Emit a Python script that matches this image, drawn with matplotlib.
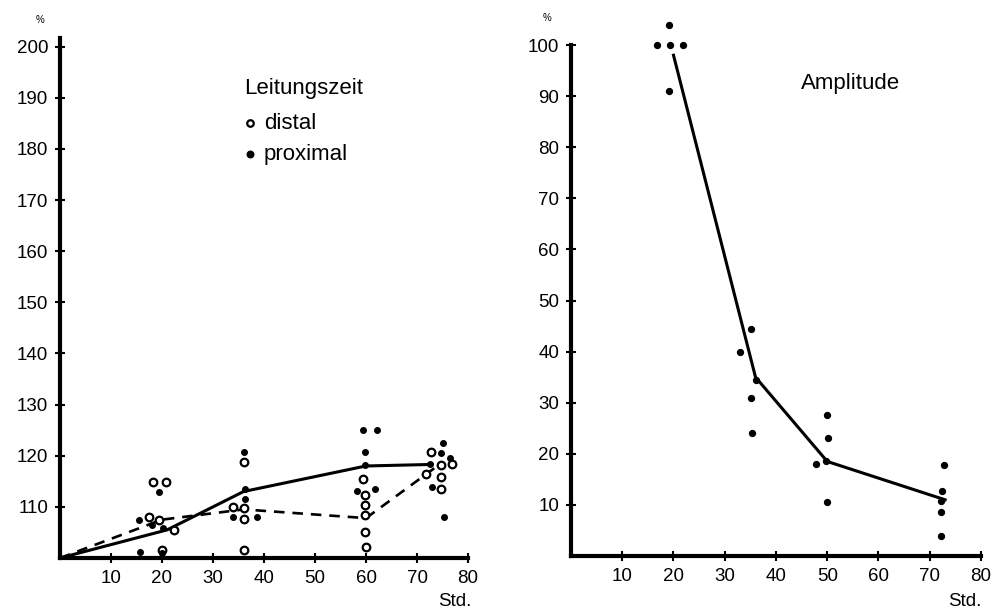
"""
Nerve conduction after transection: Leitungszeit (left) and Amplitude (right)
versus hours (Std.) -- redrawn from the scanned figure.
"""

import matplotlib
matplotlib.use("Agg")
import matplotlib.pyplot as plt

plt.rcParams.update({
    "font.family": ["Liberation Sans", "DejaVu Sans"],
    "font.size": 13.5,
    "axes.spines.top": False,
    "axes.spines.right": False,
    "axes.linewidth": 3.0,
})

# ---- left panel: Leitungszeit (%) ----
x_ticks = [10, 20, 30, 40, 50, 60, 70, 80]
left_yticks = [110, 120, 130, 140, 150, 160, 170, 180, 190, 200]
right_yticks = [10, 20, 30, 40, 50, 60, 70, 80, 90, 100]

distal_x = [18.2, 20.8, 17.5, 19.5, 22.4, 20.0,
            36.0, 34.0, 36.0, 36.0, 36.0,
            59.5, 59.8, 59.8, 59.8, 59.8, 60.0,
            72.7, 74.8, 76.8, 71.8, 74.8, 74.8]
distal_y = [114.8, 114.8, 108.0, 107.5, 105.5, 101.5,
            118.7, 110.0, 109.7, 107.7, 101.6,
            115.5, 112.4, 110.3, 108.4, 105.0, 102.2,
            120.7, 118.1, 118.4, 116.5, 115.8, 113.5]

proximal_x = [19.4, 15.4, 18.0, 20.1, 15.6, 20.0,
              36.0, 36.3, 36.3, 34.0, 38.6,
              59.5, 62.1, 59.8, 59.8, 58.2, 61.8,
              75.0, 74.8, 76.5, 72.9, 75.2, 72.5]
proximal_y = [113.0, 107.4, 106.4, 105.8, 101.2, 101.0,
              120.7, 113.5, 111.6, 108.1, 108.1,
              125.0, 125.0, 120.7, 118.1, 113.2, 113.5,
              122.4, 120.5, 119.6, 113.9, 108.1, 118.4]

distal_line_x = [0, 20, 36, 60, 74]
distal_line_y = [100, 107.5, 109.5, 107.8, 118.0]
proximal_line_x = [0, 21, 36, 60, 73]
proximal_line_y = [100, 105.5, 113.0, 118.0, 118.3]

# ---- right panel: Amplitude (%) ----
amp_x = [16.7, 19.3, 21.8, 19.2, 19.2,
         32.9, 35.1, 36.1, 35.1, 35.4,
         50.0, 50.2, 47.9, 49.7, 50.0,
         72.7, 72.3, 72.1, 72.1, 72.1]
amp_y = [100, 100, 100, 104, 91,
         40, 44.5, 34.5, 31, 24,
         27.5, 23, 18, 18.5, 10.5,
         17.8, 12.8, 10.8, 8.6, 4]
amp_line_x = [20, 36, 50, 73]
amp_line_y = [98, 35, 18.5, 11]

W, H = 1003, 611
fig = plt.figure(figsize=(W / 100, H / 100), dpi=100)
ax1 = fig.add_axes([60 / W, (H - 558) / H, 408 / W, 520 / H])
ax2 = fig.add_axes([571 / W, (H - 556) / H, 410 / W, 511 / H])


def style_axis(ax):
    ax.tick_params(direction="inout", length=7, width=1.5, pad=5, labelsize=13.5)
    ax.set_xticks(x_ticks)
    ax.set_xlim(0, 80)


# left
ax1.plot(proximal_line_x, proximal_line_y, color="black", lw=2.2, solid_capstyle="round")
ax1.plot(distal_line_x, distal_line_y, color="black", lw=1.9, dashes=(4, 3))
dist = ax1.scatter(distal_x, distal_y, s=30, facecolors="white", edgecolors="black",
                   linewidths=1.6, zorder=3, clip_on=False)
prox = ax1.scatter(proximal_x, proximal_y, s=16, color="black", zorder=4, clip_on=False)
style_axis(ax1)
ax1.set_ylim(100, 201.7)
ax1.set_yticks(left_yticks)
leg = ax1.legend([dist, prox], ["distal", "proximal"], title="Leitungszeit",
                 loc="upper left", bbox_to_anchor=(244 / W, 1 - 78 / H),
                 bbox_transform=fig.transFigure, frameon=False, alignment="left",
                 handlelength=0.5, handletextpad=0.4, labelspacing=0.45,
                 fontsize=16, title_fontsize=16, borderaxespad=0, borderpad=0)
leg._legend_box.sep = 10
for h in leg.legend_handles:
    h.set_sizes([22])
fig.text(40 / W, 1 - 20 / H, "%", fontsize=7, ha="center", va="center")
fig.text(455 / W, 1 - 601 / H, "Std.", fontsize=13.5, ha="center", va="center")

# right
ax2.plot(amp_line_x, amp_line_y, color="black", lw=2.2)
ax2.scatter(amp_x, amp_y, s=18, color="black", zorder=3, clip_on=False)
style_axis(ax2)
ax2.set_ylim(0, 100)
ax2.set_yticks(right_yticks)
ax2.text(0.56, 0.925, "Amplitude", transform=ax2.transAxes, fontsize=16,
         ha="left", va="center")
fig.text(547 / W, 1 - 18 / H, "%", fontsize=7, ha="center", va="center")
fig.text(965 / W, 1 - 601 / H, "Std.", fontsize=13.5, ha="center", va="center")

fig.savefig("out.png", dpi=100)
